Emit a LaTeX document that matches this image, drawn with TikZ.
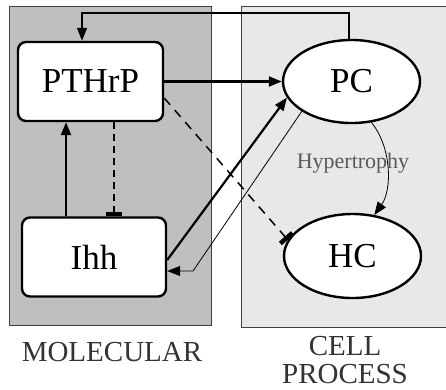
\documentclass[tikz,border=0pt]{standalone}
\usepackage{fontspec}
\setmainfont{Liberation Serif}
\newfontfamily\labelserif{Liberation Serif}
\usetikzlibrary{shapes.geometric,arrows.meta}

\tikzset{
  panel/.style={draw=black!75, line width=0.9pt},
  molbox/.style={draw, line width=2.4pt, fill=white, rounded corners=8pt,
    minimum width=#1, minimum height=79pt, inner sep=0pt,
    font=\labelserif\fontsize{35}{40}\selectfont},
  cellnode/.style={draw, ellipse, line width=2.4pt, fill=white,
    minimum width=137pt, minimum height=83pt, inner sep=0pt,
    font=\labelserif\fontsize{35}{40}\selectfont},
  act/.style={-{Triangle[length=13pt,width=10pt]}},
  inhib/.style={-{Bar[width=16pt,line width=4.5pt]}},
  thick edge/.style={line width=2.2pt},
  thin edge/.style={line width=0.8pt},
  caption/.style={text=black!80, inner sep=0pt, font=\labelserif\fontsize{29}{29}\selectfont}
}

\begin{document}
\begin{tikzpicture}[x=1pt,y=-1pt]
  \useasboundingbox (0,0) rectangle (446,389);

  % background panels
  \fill[white] (0,0) rectangle (446,389);
  \filldraw[panel, fill=black!25] (9,6) rectangle (211,325);
  \filldraw[panel, fill=black!9] (241,6) rectangle (449,327);

  % nodes
  \node[molbox=145pt] (pthrp) at (90.5,81.5) {PTHrP};
  \node[molbox=144pt] (ihh) at (94,257) {Ihh};
  \node[cellnode] (pc) at (351.5,81.5) {PC};
  \node[cellnode, minimum height=84pt] (hc) at (352.5,256) {HC};

  % feedback from PC back to PTHrP
  \coordinate (fbtop) at (82,13);
  \draw[act, line width=1.3pt] ([xshift=-2.5pt]pc.north) |- (fbtop) -- (fbtop |- pthrp.north);

  % PTHrP -> PC
  \draw[act, thick edge] (pthrp.east) -- (pc.west);

  % Ihh -> PTHrP
  \draw[act, thick edge] ([xshift=-28pt]ihh.north) -- ([xshift=-24.5pt]pthrp.south);

  % PTHrP inhibits Ihh
  \draw[inhib, thick edge, dash pattern=on 7pt off 5pt] ([xshift=23.5pt]pthrp.south) -- ([xshift=20pt]ihh.north);

  % PTHrP inhibits HC
  \draw[inhib, line width=1.5pt, dash pattern=on 9pt off 7pt] ([yshift=-16.5pt]pthrp.east) -- (hc.166);

  % Ihh -> PC
  \draw[act, thick edge] ([yshift=-3pt]ihh.east) -- (pc.194);

  % PC -> Ihh
  \coordinate (bend) at (193,271);
  \draw[act, thin edge] (pc.211) -- (bend) -- (bend -| ihh.east);

  % hypertrophy PC -> HC
  \draw[act, thin edge] (pc.-64) .. controls (392,148) and (392,190) .. (hc.62);
  \node[text=black!65, font=\labelserif\fontsize{22}{24}\selectfont] (hyp) at (353,163) {Hypertrophy};

  % panel captions
  \node[caption] (mol) at (112,352) {MOLECULAR};
  \node[caption] (cell) at (345,346) {CELL};
  \node[caption] (proc) at (345,374) {PROCESS};
\end{tikzpicture}
\end{document}
